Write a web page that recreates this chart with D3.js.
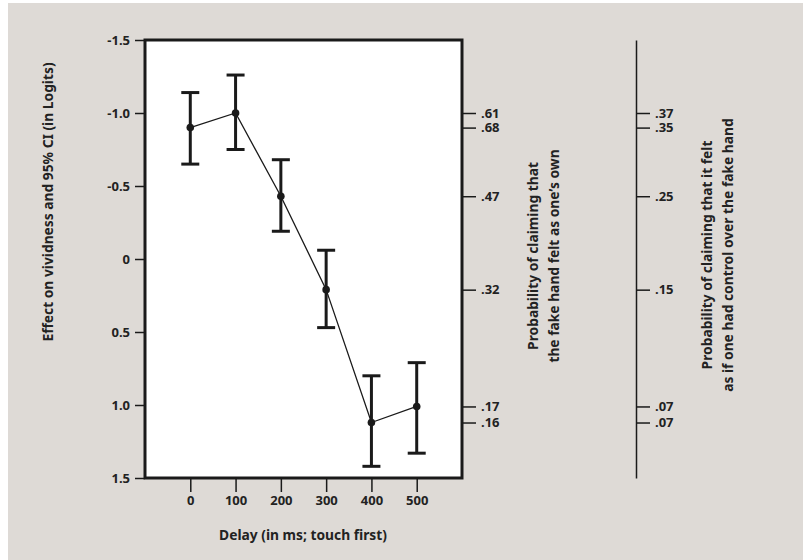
<!DOCTYPE html>
<html lang="en">
<head>
	<meta charset="UTF-8">
	<title>Delay and vividness</title>
	<script src="https://d3js.org/d3.v7.min.js"></script>
	<style>
		body { margin: 0; background-color: white; }
		svg { display: block; }
		text {
			font-family: "Noto Sans", sans-serif;
			font-weight: 700;
			fill: #222;
		}
		.axis path, .axis line {
			fill: none;
			stroke: #1a1a1a;
			stroke-width: 1.5;
		}
		.axis text { font-size: 13px; }
		.title { font-size: 13.8px; }
	</style>
</head>
<body>
<script>
	// data
	var delays = [0, 100, 200, 300, 400, 500];
	var effect = [-0.90, -1.00, -0.43, 0.21, 1.12, 1.01];
	var ciLow = [-1.14, -1.26, -0.68, -0.06, 0.80, 0.71];
	var ciHigh = [-0.65, -0.75, -0.19, 0.47, 1.42, 1.33];
	var yTicks = [-1.5, -1.0, -0.5, 0, 0.5, 1.0, 1.5];
	var yTickLabels = ['-1.5', '-1.0', '-0.5', '0', '0.5', '1.0', '1.5'];
	var probOwn = ['.68', '.61', '.47', '.32', '.16', '.17'];
	var probControl = ['.35', '.37', '.25', '.15', '.07', '.07'];

	var W = 805, H = 560;
	var margin = {top: 40, right: 343, bottom: 82, left: 145};
	var width = W - margin.left - margin.right,
		height = H - margin.top - margin.bottom;

	var svg = d3.select('body').append('svg')
		.attr('width', W)
		.attr('height', H);

	svg.append('rect')
		.attr('x', 8).attr('y', 3)
		.attr('width', W - 10).attr('height', H - 3)
		.attr('fill', '#dedad6');

	var g = svg.append('g')
		.attr('transform', 'translate(' + margin.left + ',' + margin.top + ')');

	var x = d3.scaleLinear().domain([-100, 600]).range([0, width]);
	var y = d3.scaleLinear().domain([-1.5, 1.5]).range([0, height]);

	g.append('rect')
		.attr('width', width).attr('height', height)
		.attr('fill', 'white')
		.attr('stroke', '#1a1a1a')
		.attr('stroke-width', 3);

	// left axis
	var left = g.append('g').attr('class', 'axis')
		.call(d3.axisLeft(y).tickValues(yTicks)
			.tickFormat(function(d, i) { return yTickLabels[i]; })
			.tickSize(10).tickSizeOuter(0).tickPadding(5));
	left.select('.domain').remove();

	// bottom axis
	var bottom = g.append('g').attr('class', 'axis')
		.attr('transform', 'translate(0,' + height + ')')
		.call(d3.axisBottom(x).tickValues(delays)
			.tickSize(14).tickSizeOuter(0).tickPadding(4));
	bottom.select('.domain').remove();

	// right axis 1: probability of ownership, ticks at the means
	var r1 = g.append('g').attr('class', 'axis')
		.attr('transform', 'translate(' + width + ',0)')
		.call(d3.axisRight(y).tickValues(effect)
			.tickFormat(function(d, i) { return probOwn[i]; })
			.tickSize(14).tickSizeOuter(0).tickPadding(5));
	r1.select('.domain').remove();

	// right axis 2: probability of control
	var r2 = g.append('g').attr('class', 'axis')
		.attr('transform', 'translate(' + (width + 174) + ',0)')
		.call(d3.axisRight(y).tickValues(effect)
			.tickFormat(function(d, i) { return probControl[i]; })
			.tickSize(14).tickSizeOuter(0).tickPadding(5));
	r2.select('.domain').attr('stroke-width', 3);

	// line through means
	var line = d3.line()
		.x(function(d, i) { return x(delays[i]); })
		.y(function(d) { return y(d); });
	g.append('path')
		.datum(effect)
		.attr('d', line)
		.attr('fill', 'none')
		.attr('stroke', '#1a1a1a')
		.attr('stroke-width', 1.3);

	// error bars
	var bars = g.selectAll('.err')
		.data(delays)
		.enter().append('g')
		.attr('class', 'err');
	bars.append('line')
		.attr('x1', function(d) { return x(d); })
		.attr('x2', function(d) { return x(d); })
		.attr('y1', function(d, i) { return y(ciLow[i]); })
		.attr('y2', function(d, i) { return y(ciHigh[i]); })
		.attr('stroke', '#1a1a1a').attr('stroke-width', 3);
	[ciLow, ciHigh].forEach(function(arr) {
		bars.append('line')
			.attr('x1', function(d) { return x(d) - 9; })
			.attr('x2', function(d) { return x(d) + 9; })
			.attr('y1', function(d, i) { return y(arr[i]); })
			.attr('y2', function(d, i) { return y(arr[i]); })
			.attr('stroke', '#1a1a1a').attr('stroke-width', 3);
	});
	bars.append('circle')
		.attr('cx', function(d) { return x(d); })
		.attr('cy', function(d, i) { return y(effect[i]); })
		.attr('r', 3.8)
		.attr('fill', '#1a1a1a');

	// titles
	svg.append('text').attr('class', 'title')
		.attr('transform', 'translate(48,202) rotate(-90)')
		.attr('text-anchor', 'middle')
		.attr('dy', '0.35em')
		.text('Effect on vividness and 95% CI (in Logits)');

	svg.append('text').attr('class', 'title')
		.attr('x', 303).attr('y', 540)
		.attr('text-anchor', 'middle')
		.text('Delay (in ms; touch first)');

	function twoLine(cx, cy, lines) {
		var t = svg.append('text').attr('class', 'title')
			.attr('transform', 'translate(' + cx + ',' + cy + ') rotate(-90)')
			.attr('text-anchor', 'middle');
		lines.forEach(function(s, i) {
			t.append('tspan')
				.attr('x', 0)
				.attr('y', (i - 0.5) * 21 + 5)
				.text(s);
		});
	}
	twoLine(543, 256, ['Probability of claiming that', 'the fake hand felt as one\u2019s own']);
	twoLine(717, 255, ['Probability of claiming that it felt', 'as if one had control over the fake hand']);
</script>
</body>
</html>
